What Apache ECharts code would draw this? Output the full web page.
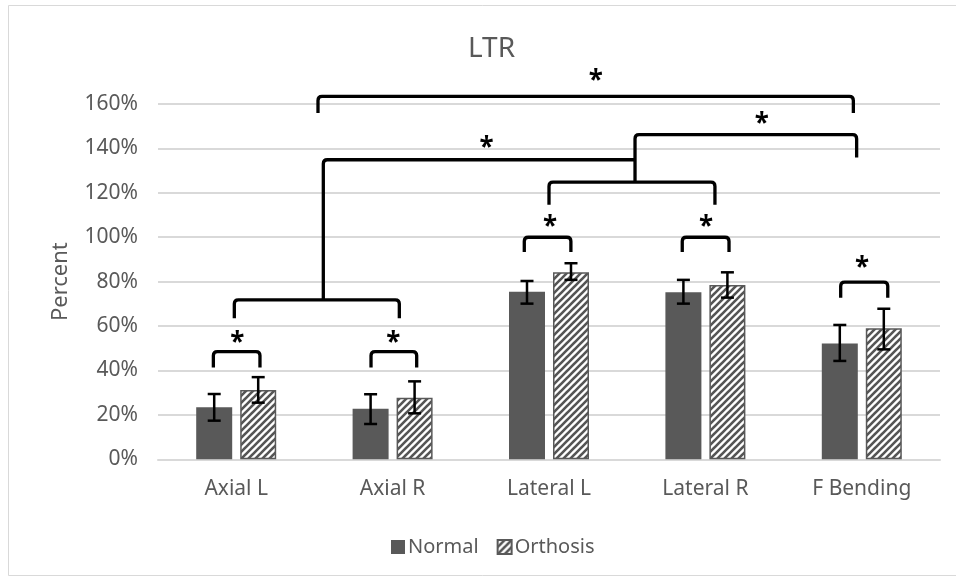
<!DOCTYPE html>
<html>
<head>
<meta charset="utf-8">
<script src="https://cdn.jsdelivr.net/npm/echarts@6/dist/echarts.min.js"></script>
<style>html,body{margin:0;padding:0;background:#fff;}#c{width:956px;height:578px;}</style>
</head>
<body>
<div id="c"></div>
<script>
const categories = ['Axial L', 'Axial R', 'Lateral L', 'Lateral R', 'F Bending'];
const normalMean = [23.4, 22.8, 75.4, 75.2, 52.1];
const normalLow = [17.4, 15.9, 70.1, 70.1, 44.3];
const normalHigh = [29.4, 29.3, 80.3, 80.8, 60.5];
const orthosisMean = [31.2, 27.7, 84.2, 78.5, 59.0];
const orthosisLow = [25.5, 20.7, 80.8, 72.8, 49.5];
const orthosisHigh = [37.0, 35.1, 88.3, 84.2, 67.8];
const yTickValues = [0, 20, 40, 60, 80, 100, 120, 140, 160];

// significance brackets: polylines in (category position, percent)
const bracketPaths = [
  [[-0.146, 41.3], [-0.146, 48.5], [0.152, 48.5], [0.152, 41.3]],
  [[0.862, 41.3], [0.862, 48.5], [1.154, 48.5], [1.154, 41.3]],
  [[1.842, 93.3], [1.842, 100.0], [2.14, 100.0], [2.14, 93.3]],
  [[2.852, 93.3], [2.852, 100.0], [3.151, 100.0], [3.151, 93.3]],
  [[3.865, 72.8], [3.865, 79.8], [4.166, 79.8], [4.166, 72.8]],
  [[-0.012, 63.5], [-0.012, 71.8], [1.043, 71.8], [1.043, 63.5]],
  [[0.557, 71.8], [0.557, 134.9], [2.545, 134.9]],
  [[2.0, 114.6], [2.0, 124.8], [3.061, 124.8], [3.061, 114.6]],
  [[2.55, 124.8], [2.55, 146.2], [3.967, 146.2], [3.967, 135.9]],
  [[0.523, 155.9], [0.523, 163.4], [3.946, 163.4], [3.946, 155.9]]
];
const starPoints = [[0.007, 54.2], [1.004, 54.2], [2.006, 106.6], [3.004, 106.6], [4.001, 88.0], [1.6, 142.1], [3.36, 153.2], [2.30, 172.2]];

const FONT = 'Noto Sans';
const TXT = '#595959';
const BAR_W = 36, BAR_GAP = 8;

function makePattern() {
  const s = 7;
  const cv = document.createElement('canvas');
  cv.width = s; cv.height = s;
  const g = cv.getContext('2d');
  g.fillStyle = '#ffffff';
  g.fillRect(0, 0, s, s);
  g.strokeStyle = '#555555';
  g.lineWidth = 2.6;
  g.lineCap = 'square';
  for (let k = -1; k <= 1; k++) {
    g.beginPath();
    g.moveTo(k * s, s);
    g.lineTo(k * s + s, 0);
    g.stroke();
  }
  return cv;
}
const pattern = { image: makePattern(), repeat: 'repeat' };

function roundedPath(pts, r) {
  let d = 'M' + pts[0][0] + ' ' + pts[0][1];
  for (let i = 1; i < pts.length - 1; i++) {
    const p = pts[i], a = pts[i - 1], b = pts[i + 1];
    const la = Math.hypot(p[0] - a[0], p[1] - a[1]) || 1;
    const lb = Math.hypot(b[0] - p[0], b[1] - p[1]) || 1;
    const ra = Math.min(r, la / 2), rb = Math.min(r, lb / 2);
    const x1 = p[0] - (p[0] - a[0]) / la * ra, y1 = p[1] - (p[1] - a[1]) / la * ra;
    const x2 = p[0] + (b[0] - p[0]) / lb * rb, y2 = p[1] + (b[1] - p[1]) / lb * rb;
    d += ' L' + x1 + ' ' + y1 + ' Q' + p[0] + ' ' + p[1] + ' ' + x2 + ' ' + y2;
  }
  const e = pts[pts.length - 1];
  d += ' L' + e[0] + ' ' + e[1];
  return d;
}

function errorSeries(name, low, high, sign) {
  return {
    type: 'custom',
    name: name + '_err',
    xAxisIndex: 0,
    yAxisIndex: 0,
    z: 5,
    silent: true,
    encode: { x: 0, y: [1, 2] },
    data: categories.map((c, i) => [i, low[i], high[i]]),
    renderItem: function (params, api) {
      const lo = api.coord([api.value(0), api.value(1)]);
      const hi = api.coord([api.value(0), api.value(2)]);
      const x = lo[0] + sign * (BAR_W + BAR_GAP) / 2;
      const hw = 6.5;
      const st = { stroke: '#000', lineWidth: 2.5 };
      return {
        type: 'group',
        children: [
          { type: 'line', shape: { x1: x, y1: lo[1], x2: x, y2: hi[1] }, style: st },
          { type: 'line', shape: { x1: x - hw, y1: lo[1], x2: x + hw, y2: lo[1] }, style: st },
          { type: 'line', shape: { x1: x - hw, y1: hi[1], x2: x + hw, y2: hi[1] }, style: st }
        ]
      };
    }
  };
}

const chart = echarts.init(document.getElementById('c'), null, { renderer: 'canvas' });
chart.setOption({
  animation: false,
  backgroundColor: '#fff',
  textStyle: { fontFamily: FONT },
  title: {
    text: 'LTR',
    left: 463,
    top: 30,
    textStyle: { fontFamily: FONT, fontSize: 28, fontWeight: 'normal', color: TXT }
  },
  legend: {
    data: ['Normal', 'Orthosis'],
    left: 386,
    top: 532,
    itemWidth: 14,
    itemHeight: 14,
    itemGap: 18,
    icon: 'rect',
    textStyle: { fontFamily: FONT, fontSize: 20, color: TXT, padding: [0, 0, 0, -2] }
  },
  graphic: [{
    type: 'rect',
    shape: { x: 8.5, y: 5.5, width: 960, height: 570 },
    style: { fill: 'none', stroke: '#d9d9d9', lineWidth: 1 },
    silent: true, z: -10
  }],
  grid: { left: 158, right: 16, top: 104, bottom: 578 - 459.3 },
  xAxis: [{
    type: 'category',
    data: categories,
    axisLine: { lineStyle: { color: '#d9d9d9', width: 2 } },
    axisTick: { show: false },
    axisLabel: { fontFamily: FONT, fontSize: 21, color: TXT, margin: 19 }
  }, {
    type: 'value',
    min: -0.5, max: 4.5,
    show: false
  }],
  yAxis: {
    type: 'value',
    min: yTickValues[0],
    max: yTickValues[yTickValues.length - 1],
    interval: 20,
    name: 'Percent',
    nameLocation: 'middle',
    nameGap: 86,
    nameTextStyle: { fontFamily: FONT, fontSize: 22, color: TXT },
    axisLine: { show: false },
    axisTick: { show: false },
    splitLine: { lineStyle: { color: '#d9d9d9', width: 2 } },
    axisLabel: { fontFamily: FONT, fontSize: 21, color: TXT, margin: 20, formatter: '{value}%' }
  },
  series: [
    {
      type: 'bar', name: 'Normal', data: normalMean,
      barWidth: BAR_W, barGap: (BAR_GAP / BAR_W * 100) + '%',
      itemStyle: { color: '#595959' }
    },
    {
      type: 'bar', name: 'Orthosis', data: orthosisMean,
      barWidth: BAR_W,
      itemStyle: { color: pattern, borderColor: '#595959', borderWidth: 1.5 }
    },
    errorSeries('Normal', normalLow, normalHigh, -1),
    errorSeries('Orthosis', orthosisLow, orthosisHigh, 1),
    {
      type: 'custom',
      name: 'brackets',
      xAxisIndex: 1,
      yAxisIndex: 0,
      silent: true,
      clip: false,
      z: 6,
      data: bracketPaths.map(p => p[0]),
      renderItem: function (params, api) {
        const pts = bracketPaths[params.dataIndex].map(p => api.coord(p));
        return {
          type: 'path',
          shape: { pathData: roundedPath(pts, 4) },
          style: { fill: 'none', stroke: '#000', lineWidth: 3.3, lineJoin: 'round', lineCap: 'butt' }
        };
      }
    },
    {
      type: 'custom',
      name: 'stars',
      xAxisIndex: 1,
      yAxisIndex: 0,
      silent: true,
      clip: false,
      z: 7,
      data: starPoints,
      renderItem: function (params, api) {
        const p = api.coord([api.value(0), api.value(1)]);
        return {
          type: 'text',
          x: p[0], y: p[1] + 5,
          style: {
            text: '*', fill: '#000', fontFamily: FONT, fontSize: 26, fontWeight: 'bold',
            align: 'center', verticalAlign: 'middle'
          }
        };
      }
    }
  ]
});
</script>
</body>
</html>
